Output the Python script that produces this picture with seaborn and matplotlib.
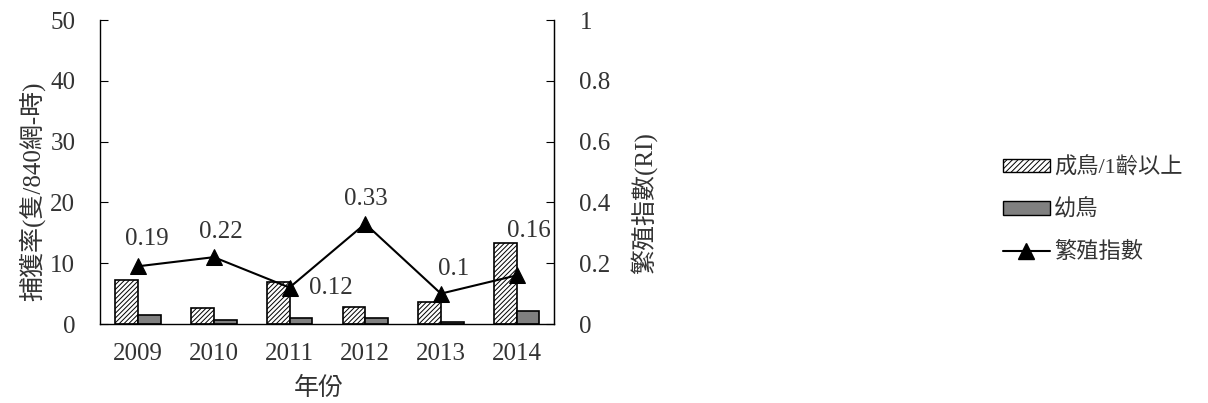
import numpy as np
import pandas as pd
import matplotlib
matplotlib.use("Agg")
import matplotlib.pyplot as plt
import seaborn as sns
from matplotlib.patches import Patch
from matplotlib.lines import Line2D

years = ["2009", "2010", "2011", "2012", "2013", "2014"]
adult = [7.2, 2.6, 6.9, 2.8, 3.6, 13.3]
juvenile = [1.5, 0.65, 1.0, 1.0, 0.3, 2.1]
ri = [0.19, 0.22, 0.12, 0.33, 0.1, 0.16]
ri_labels = ["0.19", "0.22", "0.12", "0.33", "0.1", "0.16"]
groups = ["成鳥/1齡以上", "幼鳥"]

sns.set_style("white")
fonts = ["Liberation Serif", "Noto Sans CJK TC", "DejaVu Sans"]
plt.rcParams["font.family"] = fonts
plt.rcParams["hatch.linewidth"] = 0.7

df = pd.DataFrame({
    "year": years * 2,
    "group": [groups[0]] * len(years) + [groups[1]] * len(years),
    "rate": adult + juvenile,
})

fig = plt.figure(figsize=(12.08, 4.03), dpi=100)
ax = fig.add_axes([0.083, 0.196, 0.376, 0.754])

sns.barplot(data=df, x="year", y="rate", hue="group", order=years,
            hue_order=groups, palette=["white", "#808080"], width=0.6,
            edgecolor="black", linewidth=1.2, ax=ax, legend=False)
for i, p in enumerate(ax.patches):
    if i < len(years):
        p.set_hatch("///////")

ax.set_xlim(-0.5, len(years) - 0.5)
ax.set_ylim(0, 50)
ax.set_yticks(range(0, 51, 10))
ax.set_xticks(range(len(years)))
ax.set_xticklabels(years)
ax.set_xticks(np.arange(-0.5, len(years)), minor=True)
ax.tick_params(axis="x", which="major", length=0, labelsize=18, pad=14, colors="#333333")
ax.tick_params(axis="x", which="minor", direction="in", length=6, width=0.8, color="black")
ax.tick_params(axis="y", direction="in", length=6, width=0.8, labelsize=18, pad=18,
               labelcolor="#333333", color="black")
ax.set_xlabel("年份", fontsize=18, color="#333333")
ax.set_ylabel("捕獲率(隻/840網-時)", fontsize=18, color="#333333")
ax.xaxis.set_label_coords(0.48, -0.175)
ax.yaxis.set_label_coords(-0.12, 0.4375)
ax.spines["top"].set_visible(False)
for s in ["left", "bottom"]:
    ax.spines[s].set_linewidth(1.0)
    ax.spines[s].set_color("black")

ax2 = ax.twinx()
sns.lineplot(x=np.arange(len(years)), y=ri, color="black", marker="^",
             markersize=12, markeredgecolor="black", linewidth=1.5, ax=ax2)
ax2.set_ylim(0, 1)
ax2.set_yticks([0, 0.2, 0.4, 0.6, 0.8, 1])
ax2.set_yticklabels(["0", "0.2", "0.4", "0.6", "0.8", "1"])
ax2.tick_params(axis="y", direction="in", length=6, width=0.8, labelsize=18, pad=18,
                labelcolor="#333333", color="black")
ax2.set_ylabel("繁殖指數(RI)", fontsize=18, color="#333333")
ax2.yaxis.set_label_coords(1.166, 0.398)
ax2.spines["top"].set_visible(False)
ax2.spines["left"].set_visible(False)
ax2.spines["bottom"].set_visible(False)
ax2.spines["right"].set_linewidth(1.0)
ax2.spines["right"].set_color("black")

offsets = [(6.5, 20), (5, 18), (30, 0), (0.7, 18), (9, 18), (9, 32)]
for i, (lab, off) in enumerate(zip(ri_labels, offsets)):
    ax2.annotate(lab, (i, ri[i]), xytext=off, textcoords="offset points",
                 ha="center", va="center", fontsize=18, color="#333333")

handles = [
    Patch(facecolor="white", edgecolor="black", hatch="//////", label=groups[0]),
    Patch(facecolor="#808080", edgecolor="black", label=groups[1]),
    Line2D([0], [0], color="black", marker="^", markersize=11, linewidth=1.5,
           label="繁殖指數"),
]
leg = fig.legend(handles=handles, loc="center left", bbox_to_anchor=(0.821, 0.479),
                 frameon=False, fontsize=16, handlelength=2.1, handleheight=0.55,
                 handletextpad=0.2, labelspacing=0.95, borderpad=0)
for t in leg.get_texts():
    t.set_color("#333333")

fig.savefig("out.png", dpi=100)
